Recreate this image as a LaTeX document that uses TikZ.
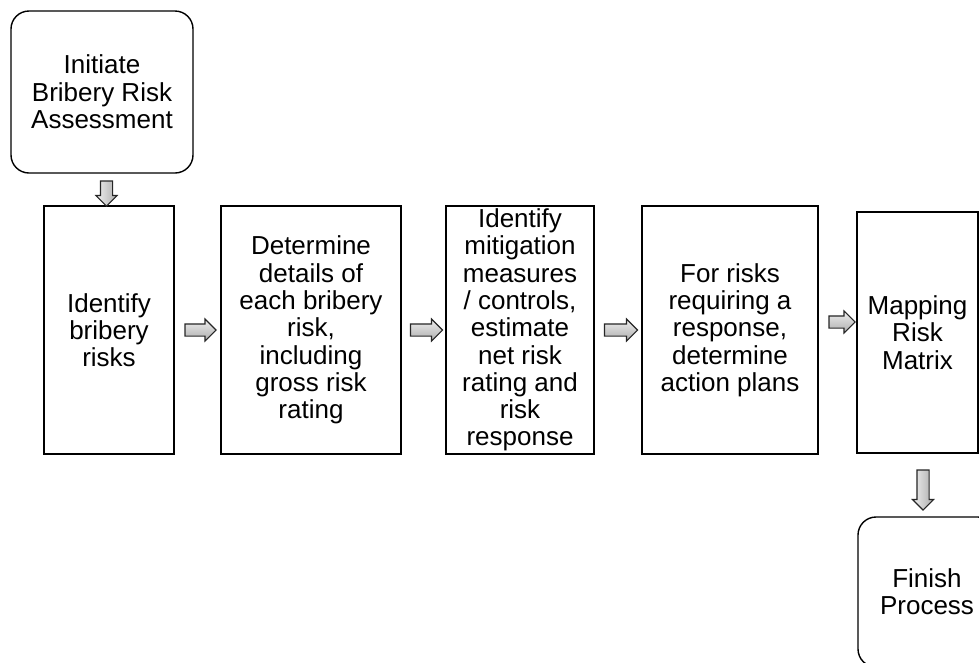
\documentclass[tikz,border=0pt]{standalone}
\usepackage{fontspec}
\setmainfont{Liberation Sans}
\usetikzlibrary{shapes.arrows,calc}
\begin{document}
\begin{tikzpicture}[x=1pt,y=-1pt,
  box/.style={draw=black,line width=1.4pt,fill=white,align=center,inner sep=0pt,
    font=\fontsize{26}{27.3}\selectfont},
  harrow/.style={single arrow,draw=black!85,line width=1.1pt,inner sep=5.5pt,
    single arrow head extend=5pt,minimum height=#1,single arrow tip angle=90,
    top color=gray!12,bottom color=gray!65},
  varrow/.style={single arrow,draw=black!85,line width=1.1pt,inner sep=5.5pt,
    single arrow head extend=4.5pt,minimum height=#1,single arrow tip angle=90,
    shape border rotate=270,left color=gray!12,right color=gray!65}]
\useasboundingbox (0,0) rectangle (979,662);
\clip (0,0) rectangle (979,662);
% boxes
\node[box,rounded corners=18pt,minimum width=182pt,minimum height=162pt] (init) at (102,92)
  {Initiate\\Bribery Risk\\Assessment};
\node[box,minimum width=130pt,minimum height=248pt] (b1) at (109,330)
  {Identify\\bribery\\risks};
\node[box,minimum width=180pt,minimum height=248pt] (b2) at (311,330)
  {Determine\\details of\\each bribery\\risk,\\including\\gross risk\\rating};
\node[box,minimum width=148pt,minimum height=248pt] (b3) at (520,330)
  {Identify\\mitigation\\measures\\/ controls,\\estimate\\net risk\\rating and\\risk\\response};
\node[box,minimum width=176pt,minimum height=248pt] (b4) at (730,330)
  {For risks\\requiring a\\response,\\determine\\action plans};
\node[box,minimum width=121pt,minimum height=241pt] (b5) at (917.5,332.5)
  {Mapping\\Risk\\Matrix};
\node[box,rounded corners=18pt,minimum width=138pt,minimum height=150pt] (fin) at (927,592)
  {Finish\\Process};
% arrows
\node[varrow=25pt] (d01) at (106.5,190.5) {};
\node[harrow=31pt] (a12) at ($(b1.east)!0.5!(b2.west)$) {};
\node[harrow=32pt] (a23) at ($(b2.east)!0.5!(b3.west)$) {};
\node[harrow=33pt] (a34) at ($(b3.east)!0.5!(b4.west)$) {};
\node[harrow=26pt] (a45) at (839,322) {};
\node[varrow=40pt] (d56) at (923,487) {};
\end{tikzpicture}
\end{document}
